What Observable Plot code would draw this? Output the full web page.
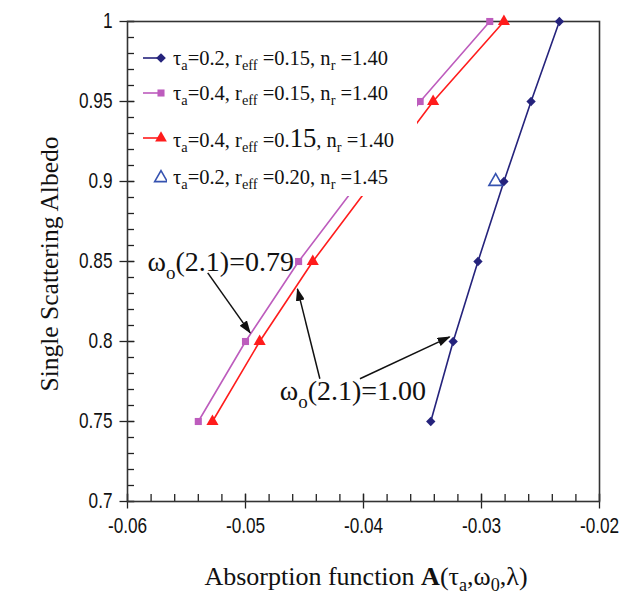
<!DOCTYPE html>
<html><head><meta charset="utf-8">
<script src="https://cdn.jsdelivr.net/npm/d3@7"></script>
<script src="https://cdn.jsdelivr.net/npm/@observablehq/plot@0.6"></script>
<style>
body{margin:0;background:#fff;}
#wrap{position:relative;width:626px;height:594px;overflow:hidden;background:#fff;}
.serif{font-family:"Liberation Serif","Times New Roman",serif;color:#111;white-space:nowrap;position:absolute;}
sub{font-size:70%;vertical-align:-0.35em;line-height:0;}
#legend{position:absolute;left:135px;top:36px;width:282px;height:160px;background:#fff;}
.row{position:absolute;left:0;height:30px;display:flex;align-items:center;font-family:"Liberation Serif",serif;font-size:20.5px;color:#111;white-space:nowrap;}
.row svg{margin-right:6px;}
</style></head><body><div id="wrap"></div>
<script>
// ---- data ----
const blueAlbedo = [0.75, 0.80, 0.85, 0.90, 0.95, 1.00];
const blueA      = [-0.0343, -0.0324, -0.0303, -0.0281, -0.0258, -0.0234];
const magentaAlbedo = [0.75, 0.80, 0.85, 0.95, 1.00];
const magentaA      = [-0.0540, -0.0500, -0.0455, -0.0352, -0.0293];
const redAlbedo = [0.75, 0.80, 0.85, 0.95, 1.00];
const redA      = [-0.0528, -0.0488, -0.0443, -0.0341, -0.0281];
const openAlbedo = [0.90];
const openA      = [-0.0288];

const xMajor = [-0.06, -0.05, -0.04, -0.03, -0.02];
const xMajorLabels = ["-0.06", "-0.05", "-0.04", "-0.03", "-0.02"];
const yMajor = [0.70, 0.75, 0.80, 0.85, 0.90, 0.95, 1.00];
const yMajorLabels = ["0.7", "0.75", "0.8", "0.85", "0.9", "0.95", "1"];

const seriesNames = ["blue", "magenta", "red", "open"];
const seriesColors = ["#25237c", "#bd5cbd", "#ff1c1c", "#3552b0"];
const seriesLabels = [
  "τ<sub>a</sub>=0.2, r<sub>eff</sub> =0.15, n<sub>r</sub> =1.40",
  "τ<sub>a</sub>=0.4, r<sub>eff</sub> =0.15, n<sub>r</sub> =1.40",
  "τ<sub>a</sub>=0.4, r<sub>eff</sub> =0.<span style='font-size:130%'>15</span>, n<sub>r</sub> =1.40",
  "τ<sub>a</sub>=0.2, r<sub>eff</sub> =0.20, n<sub>r</sub> =1.45"
];

const noteText   = ["ω|o|(2.1)=0.79", "ω|o|(2.1)=1.00"];
const noteA      = [-0.0583, -0.0471];
const noteAlbedo = [0.8496, 0.769];
const arrowFromA   = [-0.0532, -0.0437, -0.0403];
const arrowFromAlb = [0.8429, 0.7767, 0.7767];
const arrowToA     = [-0.0496, -0.0456, -0.0327];
const arrowToAlb   = [0.8054, 0.8329, 0.8029];

// ---- tables ----
const pts = (A, Y) => A.map((a, i) => ({a, y: Y[i]}));
const blue = pts(blueA, blueAlbedo), magenta = pts(magentaA, magentaAlbedo),
      red = pts(redA, redAlbedo), open = pts(openA, openAlbedo);
const notes = noteText.map((t, i) => ({t, a: noteA[i], y: noteAlbedo[i]}));
const arrows = arrowFromA.map((a, i) => ({a1: a, y1: arrowFromAlb[i], a2: arrowToA[i], y2: arrowToAlb[i]}));
const xMinor = d3.ticks(-0.06, -0.02, 20);
const yMinor = d3.ticks(0.7, 1.0, 30);

const tickFont = "'Liberation Sans',Arial,sans-serif";

const chart = Plot.plot({
  width: 626, height: 594,
  marginLeft: 127, marginRight: 27, marginTop: 21, marginBottom: 93,
  x: {domain: [-0.06, -0.02]},
  y: {domain: [0.7, 1.0]},
  style: {background: "transparent", color: "#222", overflow: "visible"},
  marks: [
    Plot.axisX(xMinor, {tickSize: 7, dy: -7, tickFormat: () => "", strokeWidth: 1.3}),
    Plot.axisX(xMajor, {tickSize: 15, dy: -7.5, tickFormat: () => "", strokeWidth: 1.3}),
    Plot.axisX(xMajor, {tickSize: 0, tickPadding: 16, tickFormat: (d, i) => xMajorLabels[i], fontSize: 21.5, fontFamily: tickFont, fill: "#111", className: "ticklab"}),
    Plot.axisY(yMinor, {tickSize: 7, dx: 7, tickFormat: () => "", strokeWidth: 1.3}),
    Plot.axisY(yMajor, {tickSize: 15, dx: 7.5, tickFormat: () => "", strokeWidth: 1.3}),
    Plot.axisY(yMajor, {tickSize: 0, tickPadding: 15, tickFormat: (d, i) => yMajorLabels[i], fontSize: 21.5, fontFamily: tickFont, fill: "#111", className: "ticklab"}),
    Plot.frame({stroke: "#333", strokeWidth: 1.6}),
    Plot.line(magenta, {x: "a", y: "y", stroke: seriesColors[1], strokeWidth: 1.6}),
    Plot.line(red, {x: "a", y: "y", stroke: seriesColors[2], strokeWidth: 1.6}),
    Plot.line(blue, {x: "a", y: "y", stroke: seriesColors[0], strokeWidth: 1.6}),
    Plot.dot(magenta, {x: "a", y: "y", symbol: "square", fill: seriesColors[1], r: 4}),
    Plot.dot(red, {x: "a", y: "y", symbol: "triangle", fill: seriesColors[2], r: 4.5}),
    Plot.dot(open, {x: "a", y: "y", symbol: "triangle", fill: "white", stroke: seriesColors[3], strokeWidth: 1.6, r: 5}),
    Plot.dot(blue, {x: "a", y: "y", symbol: "diamond2", fill: seriesColors[0], stroke: "none", r: 4.2}),
    Plot.link(arrows, {x1: "a1", y1: "y1", x2: "a2", y2: "y2", stroke: "#111", strokeWidth: 1.5, className: "arrows"}),
    Plot.text(notes, {x: "a", y: "y", text: "t", textAnchor: "start", lineAnchor: "middle", fontSize: 28, fontFamily: "'Liberation Serif',serif", fill: "#111", className: "annot"})
  ]
});

// filled arrow heads
const svgNS = "http://www.w3.org/2000/svg";
const defs = document.createElementNS(svgNS, "defs");
defs.innerHTML = '<marker id="ahead" viewBox="0 0 13 9" refX="12" refY="4.5" markerWidth="13" markerHeight="9" markerUnits="userSpaceOnUse" orient="auto"><path d="M0,0L13,4.5L0,9z" fill="#111"/></marker>';
chart.insertBefore(defs, chart.firstChild);
chart.querySelectorAll(".arrows path").forEach(p => p.setAttribute("marker-end", "url(#ahead)"));

// subscripts in annotation text
chart.querySelectorAll(".annot text").forEach(t => {
  const parts = t.textContent.split("|");
  t.textContent = "";
  const a = document.createElementNS(svgNS, "tspan"); a.textContent = parts[0]; t.appendChild(a);
  const b = document.createElementNS(svgNS, "tspan"); b.textContent = parts[1];
  b.setAttribute("font-size", "19"); b.setAttribute("dy", "8"); t.appendChild(b);
  const c = document.createElementNS(svgNS, "tspan"); c.textContent = parts[2]; c.setAttribute("dy", "-8"); t.appendChild(c);
});

const wrap = document.getElementById("wrap");
wrap.appendChild(chart);
chart.style.position = "absolute"; chart.style.left = "0"; chart.style.top = "0";

// narrow tick labels (Arial Narrow look)
chart.querySelectorAll(".ticklab text").forEach(t => {
  const w = t.getComputedTextLength();
  if (w > 0) { t.setAttribute("textLength", (w * 0.8).toFixed(1)); t.setAttribute("lengthAdjust", "spacingAndGlyphs"); }
});

// axis titles
const yl = document.createElement("div");
yl.className = "serif";
yl.style.cssText = "left:50px;top:264px;transform:translate(-50%,-50%) rotate(-90deg);font-size:25.5px;";
yl.textContent = "Single Scattering Albedo";
wrap.appendChild(yl);
const xl = document.createElement("div");
xl.className = "serif";
xl.style.cssText = "left:366px;top:577px;transform:translate(-50%,-50%);font-size:26px;";
xl.innerHTML = "Absorption function <b>A</b>(τ<sub>a</sub>,ω<sub>0</sub>,λ)";
wrap.appendChild(xl);

// legend
const legend = document.createElement("div");
legend.id = "legend";
const rowTops = [7, 42, 87, 126];
const symbols = [d3.symbolDiamond2, d3.symbolSquare, d3.symbolTriangle, d3.symbolTriangle];
seriesNames.forEach((name, i) => {
  const row = document.createElement("div");
  row.className = "row";
  row.style.top = rowTops[i] + "px";
  const sw = d3.create("svg").attr("width", 32).attr("height", 20);
  if (name !== "open") {
    sw.append("line").attr("x1", 8).attr("x2", 28).attr("y1", 10).attr("y2", 10)
      .attr("stroke", seriesColors[i]).attr("stroke-width", 1.6);
    sw.append("path").attr("transform", "translate(26,10)")
      .attr("d", d3.symbol(symbols[i], name === "magenta" ? 50 : 60)())
      .attr("fill", seriesColors[i]);
  } else {
    sw.append("path").attr("transform", "translate(26,11)")
      .attr("d", d3.symbol(symbols[i], 70)())
      .attr("fill", "white").attr("stroke", seriesColors[i]).attr("stroke-width", 1.6);
  }
  row.appendChild(sw.node());
  const lab = document.createElement("span");
  lab.innerHTML = seriesLabels[i];
  row.appendChild(lab);
  legend.appendChild(row);
});
wrap.appendChild(legend);
</script></body></html>
